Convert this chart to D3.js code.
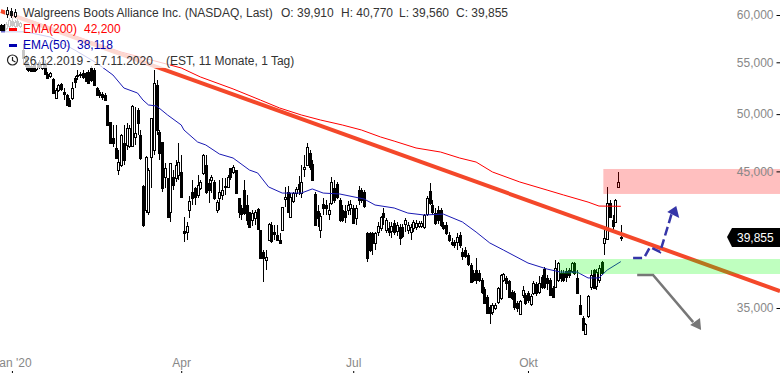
<!DOCTYPE html>
<html>
<head>
<meta charset="utf-8">
<script src="https://cdn.jsdelivr.net/npm/d3@7"></script>
<style>
  html, body { margin: 0; padding: 0; background: #fff; overflow: hidden; }
  text { font-family: "Liberation Sans", Arial, sans-serif; font-size: 12px; }
</style>
</head>
<body>
<div id="chart"></div>
<script>
// Daily candles, 26.12.2019 - 17.11.2020
var highs = [
  59.01,59.01,59.23,59.67,59.67,59.45,59.56,59.23,56.88,55.74,
  55.03,54.83,54.93,55.03,55.23,55.03,55.23,54.03,54.03,53.44,
  52.46,52.85,52.95,52.46,51.89,51.51,53.04,53.63,54.23,54.03,
  54.23,54.03,54.23,54.63,54.43,52.56,52.27,52.08,51.98,50.85,
  49.28,49.01,49.01,46.80,48.21,49.01,49.19,49.01,50.85,50.66,
  50.57,48.56,43.89,46.29,45.28,49.65,54.23,53.24,48.56,47.50,
  45.70,44.46,45.70,45.11,45.95,47.41,46.38,41.37,41.00,43.01,
  44.29,43.73,44.70,44.29,46.46,46.38,44.37,44.70,44.29,42.69,
  44.29,44.46,44.46,44.70,45.28,45.53,45.11,42.85,42.30,44.29,
  43.09,41.76,41.91,41.91,42.07,40.40,38.94,38.94,40.92,41.00,
  40.77,40.77,40.18,42.14,43.73,43.81,43.24,43.32,43.73,44.62,
  45.53,46.38,47.41,46.80,45.95,43.32,42.30,41.68,42.85,42.69,
  42.45,44.54,44.29,44.13,42.85,42.30,42.30,42.61,42.69,42.30,
  42.30,43.81,43.65,43.48,40.25,40.25,40.25,40.25,41.00,41.45,
  42.07,41.30,41.00,41.00,41.15,41.00,40.85,40.85,41.30,41.00,
  40.85,41.15,41.15,41.07,41.07,41.60,43.01,44.05,42.69,42.07,
  42.22,42.07,41.00,41.00,40.25,39.81,39.66,40.18,40.25,39.09,
  39.16,38.73,38.02,37.53,38.37,37.53,36.99,36.38,35.85,35.20,
  35.33,35.33,36.38,37.26,37.33,37.12,36.85,36.18,36.11,35.46,
  35.52,36.45,35.98,36.11,35.91,36.78,36.71,37.12,37.19,37.74,
  37.19,36.99,36.45,38.23,38.09,37.53,37.53,37.67,37.67,38.09,
  38.09,37.53,35.85,34.49,34.04,35.85,37.53,37.60,37.60,37.88,
  38.16,40.40,43.73,42.69,41.53,42.77,44.95,40.77
];
var lows = [
  58.27,58.27,58.37,58.59,58.69,58.59,58.69,58.59,54.83,54.23,
  54.03,54.03,54.03,54.13,54.33,54.23,53.73,53.34,53.44,51.89,
  51.41,52.08,52.17,51.31,50.75,50.66,51.31,52.46,53.24,53.44,
  53.34,53.04,52.85,53.04,52.65,51.70,51.51,51.31,51.22,48.92,
  47.33,47.06,46.03,44.70,45.36,45.53,46.80,46.98,47.06,47.24,
  48.12,45.95,40.62,41.68,41.53,43.65,46.38,48.12,45.95,43.32,
  43.65,41.30,41.00,43.48,44.13,44.29,42.85,39.52,39.66,41.30,
  42.30,42.30,42.85,43.48,44.70,43.17,42.45,43.24,42.69,41.68,
  41.91,42.69,43.09,43.65,44.29,44.78,43.17,41.30,41.15,41.53,
  40.77,40.55,40.70,40.77,40.40,38.30,36.71,37.53,39.59,39.45,
  39.66,39.59,39.37,40.33,42.14,41.68,41.30,42.45,42.93,43.09,
  42.85,44.54,45.45,45.11,44.21,40.70,40.62,39.81,41.53,41.53,
  41.15,42.30,42.45,42.77,41.00,41.00,40.92,41.53,41.53,40.85,
  40.77,42.30,42.45,42.07,38.09,38.80,38.59,38.94,39.96,40.33,
  40.77,40.18,39.96,39.81,40.03,39.96,39.30,39.81,40.25,40.10,
  39.66,40.25,40.40,40.55,40.55,40.47,41.45,42.30,41.53,40.77,
  40.85,40.62,40.40,40.03,39.52,39.23,39.09,38.94,39.09,38.23,
  38.37,37.81,36.65,36.71,36.58,36.71,35.91,35.26,34.62,33.98,
  34.55,34.87,35.26,35.52,36.71,36.18,35.65,35.52,34.87,34.75,
  34.55,35.65,35.20,35.33,35.13,35.85,35.78,35.91,36.25,36.25,
  36.18,35.78,35.65,36.31,36.71,36.71,36.71,36.71,36.99,37.33,
  37.19,35.91,34.55,33.55,33.30,34.36,36.18,36.25,36.18,36.65,
  37.19,38.59,39.66,41.30,40.25,40.92,43.65,39.56
];
var opens = [
  58.91,58.91,58.59,58.80,59.34,58.80,59.34,58.80,56.26,55.43,
  54.73,54.63,54.73,54.33,55.03,54.43,54.93,53.83,53.63,53.34,
  51.51,52.27,52.85,52.08,51.79,51.31,51.51,53.44,53.73,53.73,
  53.93,53.93,54.03,54.43,54.23,52.46,52.08,51.89,51.79,50.85,
  49.28,47.85,46.98,45.11,45.53,47.41,47.24,47.15,47.15,47.94,
  50.38,48.12,43.81,41.91,41.76,46.21,46.80,52.75,48.39,47.50,
  44.54,44.46,41.76,44.54,44.46,44.70,44.95,40.33,40.25,41.91,
  43.32,43.65,43.09,43.65,44.87,45.53,44.05,44.29,44.13,41.91,
  42.85,43.09,43.73,43.73,45.28,44.95,45.11,42.85,42.07,43.48,
  42.30,41.76,41.15,41.30,41.99,40.40,38.80,38.23,39.66,40.77,
  40.25,40.03,39.66,40.40,42.77,43.32,41.37,42.61,43.24,43.97,
  43.24,45.20,45.53,46.55,45.61,43.17,41.83,40.40,42.38,42.30,
  41.60,42.45,43.65,43.97,42.69,41.91,41.83,41.91,42.07,42.07,
  41.30,43.48,43.48,43.32,40.18,40.18,40.18,39.45,40.25,40.55,
  41.68,40.40,40.55,40.33,40.92,40.33,40.62,40.62,40.85,40.40,
  40.25,40.55,40.62,40.70,40.70,40.62,41.60,43.40,42.30,41.68,
  41.91,41.91,40.77,40.77,40.03,39.52,39.52,39.52,40.03,38.80,
  38.94,38.59,37.88,37.33,37.53,37.33,36.85,36.25,35.72,35.07,
  34.75,35.00,35.39,35.65,36.85,36.99,36.78,36.05,35.98,35.33,
  34.62,35.85,35.85,35.98,35.26,35.98,36.58,36.05,37.05,37.60,
  36.99,36.85,36.31,36.38,36.85,37.33,37.33,37.46,37.53,37.46,
  38.02,36.99,35.20,34.36,33.36,34.49,36.38,37.53,36.45,36.85,
  38.09,39.45,39.74,42.45,41.15,41.00,43.73,39.91
];
var closes = [
  58.37,58.37,59.01,59.45,58.91,59.23,58.91,59.12,55.43,54.63,
  54.23,54.13,54.13,54.83,54.53,54.83,53.83,53.44,53.93,51.98,
  52.27,52.75,52.37,51.89,50.85,50.75,52.46,53.04,53.63,53.83,
  53.54,53.14,52.95,53.24,52.75,51.79,51.79,51.60,51.31,49.01,
  47.41,47.41,46.12,45.78,48.12,45.95,48.74,48.74,50.75,48.30,
  49.19,46.12,40.77,46.21,45.11,49.65,52.95,48.56,46.55,43.65,
  45.28,41.37,45.70,43.89,45.53,45.78,42.93,40.18,40.70,42.61,
  42.85,42.93,43.89,44.13,46.38,43.32,43.48,44.54,42.85,42.53,
  43.32,43.48,43.81,44.54,44.54,45.36,43.24,41.76,41.60,41.68,
  41.15,40.62,41.68,41.76,40.47,38.37,38.37,38.44,40.85,39.59,
  40.10,39.66,39.45,42.14,42.93,41.76,42.93,43.24,43.57,43.57,
  44.13,45.36,47.06,45.36,44.29,40.77,41.30,41.45,42.07,42.07,
  41.91,44.13,42.69,42.93,41.15,41.15,41.37,42.30,42.38,40.92,
  42.07,42.69,42.69,42.22,38.37,38.94,39.45,40.18,40.70,41.37,
  41.37,41.15,40.25,40.70,40.25,40.77,39.81,39.96,41.15,40.77,
  40.62,41.00,40.92,40.92,40.92,41.53,42.85,42.45,41.76,40.92,
  41.15,40.77,40.55,40.18,39.66,39.37,39.30,39.88,39.30,38.52,
  38.52,37.95,36.71,36.85,36.85,36.85,36.05,35.33,34.68,34.68,
  35.20,35.20,36.31,37.19,37.26,36.65,35.72,35.65,35.07,35.00,
  35.46,36.18,35.33,35.52,35.78,36.65,35.98,36.65,36.38,36.38,
  36.65,35.85,35.72,37.67,38.02,36.99,36.85,37.05,37.19,38.02,
  37.33,35.98,34.62,33.61,33.98,35.78,37.19,36.31,37.39,37.67,
  37.33,39.81,42.45,41.37,40.70,42.69,44.13,39.855
];

// EMA readings: bar index and price
var ema200Idx = [0,22,44,66,73,85,95,102,110,117,125,132,139,144,152,161,168,174,180,190,200,206,215,219,227];
var ema200Val = [60.55,58.27,56.05,54.43,53.54,52.37,51.31,50.57,49.92,49.46,49.01,48.56,47.94,47.58,46.98,46.63,46.12,45.78,44.95,44.13,43.48,43.09,42.53,42.22,42.20];
var ema50Idx = [0,9,18,27,35,41,45,50,52,54,57,61,66,67,72,75,80,85,91,94,98,103,110,114,118,124,133,137,144,149,155,162,169,174,179,184,193,200,205,211,215,219,222,227];
var ema50Val = [58.17,58.17,57.62,56.26,54.93,53.73,52.46,51.98,51.31,50.85,50.75,49.92,49.01,48.56,47.50,47.24,46.46,46.12,45.11,44.87,43.73,43.24,43.24,43.57,43.24,43.17,42.77,42.30,42.07,41.68,41.53,41.60,41.00,40.25,39.45,38.94,38.02,37.60,37.39,37.39,36.99,36.99,37.53,38.118];

// Drawn annotations
var lastIdx = 285.3;
var trendIdx = [0, lastIdx];
var trendVal = [60.44, 36.11];
var pinkZone = [220.6, 45.20, 43.17];
var greenZone = [204.5, 38.30, 37.26];
var blueIdx = [231.5,235.5,237.7,241.4,245.8];
var blueVal = [38.37,38.37,39.16,38.80,41.76];
var blueHeadIdx = [247.3,244.0,248.4];
var blueHeadVal = [42.22,41.76,41.30];
var grayIdx = [233,238.8,253.5];
var grayVal = [37.19,37.19,34.10];
var grayHeadIdx = [252.4,256,256.4];
var grayHeadVal = [33.92,34.36,33.61];

// Axis labels and legend text
var yTicks = [60,55,50,45,40,35];
var monthIdx = [4,66,129,193];
var monthLabels = ["Jan '20","Apr","Jul","Okt"];
var title = 'Walgreens Boots Alliance Inc. (NASDAQ, Last)';
var ohlcLabels = ['O: 39,910','H: 40,770','L: 39,560','C: 39,855'];
var ohlcX = [281,341,399,456];

var chart_width = 780;
var chart_height = 373;

var svg = d3.select('#chart')
    .append('svg')
    .attr('width', chart_width)
    .attr('height', chart_height)
    .style('display', 'block');

// Creating scales
var scale_x = d3.scaleLinear()
    .domain([0, lastIdx])
    .range([1, chart_width]);

var scale_y = d3.scaleLog()
    .domain([60, 30])
    .range([15, 391.8]);

// Candles
var bars = svg.append('g').attr('shape-rendering', 'crispEdges')
    .selectAll('g')
    .data(d3.range(closes.length))
    .enter()
    .append('g');

bars.append('line')
    .attr('x1', function(i){ return Math.round(scale_x(i)) + 0.5; })
    .attr('x2', function(i){ return Math.round(scale_x(i)) + 0.5; })
    .attr('y1', function(i){ return scale_y(highs[i]); })
    .attr('y2', function(i){ return scale_y(lows[i]); })
    .attr('stroke', '#000');

bars.append('rect')
    .attr('x', function(i){ return Math.round(scale_x(i)) - 0.5; })
    .attr('width', 2)
    .attr('y', function(i){ return Math.round(scale_y(Math.max(opens[i], closes[i]))) + 0.5; })
    .attr('height', function(i){ return Math.max(1, Math.round(Math.abs(scale_y(opens[i]) - scale_y(closes[i])))); })
    .attr('fill', function(i){ return closes[i] < opens[i] ? '#000' : '#fff'; })
    .attr('stroke', '#000');

// EMA lines
var line_xy = function(idx, val) {
    return d3.line()
        .x(function(i){ return scale_x(idx[i]); })
        .y(function(i){ return scale_y(val[i]); })(d3.range(idx.length));
};

svg.append('path')
    .attr('d', line_xy(ema200Idx, ema200Val))
    .attr('fill', 'none')
    .attr('stroke', '#ff0000')
    .attr('stroke-width', 1);

svg.append('path')
    .attr('d', line_xy(ema50Idx, ema50Val))
    .attr('fill', 'none')
    .attr('stroke', '#1a1ab4')
    .attr('stroke-width', 1);

// Trend line
svg.append('path')
    .attr('d', line_xy(trendIdx, trendVal))
    .attr('fill', 'none')
    .attr('stroke', '#f4482a')
    .attr('stroke-width', 4);

// Zones sit over the candles and the trend line
svg.append('rect')
    .attr('x', scale_x(pinkZone[0]))
    .attr('y', scale_y(pinkZone[1]))
    .attr('width', chart_width - scale_x(pinkZone[0]))
    .attr('height', scale_y(pinkZone[2]) - scale_y(pinkZone[1]))
    .attr('fill', '#ff0000')
    .attr('fill-opacity', 0.25);

svg.append('rect')
    .attr('x', scale_x(greenZone[0]))
    .attr('y', scale_y(greenZone[1]))
    .attr('width', chart_width - scale_x(greenZone[0]))
    .attr('height', scale_y(greenZone[2]) - scale_y(greenZone[1]))
    .attr('fill', '#00ff00')
    .attr('fill-opacity', 0.25);

// Arrows
svg.append('path')
    .attr('d', line_xy(blueIdx, blueVal))
    .attr('fill', 'none')
    .attr('stroke', '#3535a8')
    .attr('stroke-width', 2.5)
    .attr('stroke-dasharray', '9,4');

svg.append('path')
    .attr('d', line_xy(blueHeadIdx, blueHeadVal) + 'Z')
    .attr('fill', '#3535a8');

svg.append('path')
    .attr('d', line_xy(grayIdx, grayVal))
    .attr('fill', 'none')
    .attr('stroke', '#777')
    .attr('stroke-width', 2.5);

svg.append('path')
    .attr('d', line_xy(grayHeadIdx, grayHeadVal) + 'Z')
    .attr('fill', '#777');

// Axes
var axis_y = d3.axisLeft(scale_y)
    .tickValues(yTicks)
    .tickFormat(function(d){ return d3.format('.3f')(d).replace('.', ','); })
    .tickSize(3.5)
    .tickPadding(3);

var y_group = svg.append('g')
    .attr('transform', 'translate(' + chart_width + ',0)')
    .call(axis_y);
y_group.select('.domain').remove();
y_group.selectAll('text').attr('fill', '#888').style('font-size', '12px');
y_group.selectAll('line').attr('stroke', '#000');

var axis_x = d3.axisBottom(scale_x)
    .tickValues(monthIdx)
    .tickFormat(function(d, i){ return monthLabels[i]; })
    .tickSize(2);

var x_group = svg.append('g')
    .attr('transform', 'translate(0,371)')
    .call(axis_x);
x_group.select('.domain').remove();
x_group.selectAll('text').attr('y', -13).attr('fill', '#888').style('font-size', '12px');
x_group.selectAll('line').attr('stroke', '#000');

// Last price tag
var tag_y = Math.round(scale_y(closes[closes.length - 1]));
svg.append('path')
    .attr('d', 'M727,' + tag_y + 'L732,' + (tag_y - 9) + 'H780V' + (tag_y + 10) + 'H732Z')
    .attr('fill', '#000');
svg.append('text')
    .attr('x', 737)
    .attr('y', tag_y + 5)
    .attr('fill', '#fff')
    .text('39,855');

// Legend box washes out what lies under it
svg.append('rect')
    .attr('x', 5).attr('y', 0)
    .attr('width', 165).attr('height', 68)
    .attr('fill', '#fff')
    .attr('fill-opacity', 0.78);

var legend = svg.append('g');

legend.append('text').attr('x', 23).attr('y', 17).attr('fill', '#333').text(title);
legend.selectAll('.ohlc')
    .data(ohlcLabels)
    .enter()
    .append('text')
    .attr('class', 'ohlc')
    .attr('x', function(d, i){ return ohlcX[i]; })
    .attr('y', 17)
    .attr('fill', '#333')
    .text(function(d){ return d; });

legend.append('text').attr('x', 23).attr('y', 33).attr('fill', '#ff0000').text('EMA(200)');
legend.append('text').attr('x', 84).attr('y', 33).attr('fill', '#ff0000').text('42,200');
legend.append('text').attr('x', 23).attr('y', 49).attr('fill', '#0000b0').text('EMA(50)');
legend.append('text').attr('x', 77).attr('y', 49).attr('fill', '#0000b0').text('38,118');
legend.append('text').attr('x', 23).attr('y', 65).attr('fill', '#333').text('26.12.2019 - 17.11.2020');
legend.append('text').attr('x', 166).attr('y', 65).attr('fill', '#333').text('(EST, 11 Monate, 1 Tag)');

// Legend icons
legend.append('rect').attr('x', 9).attr('y', 28).attr('width', 8).attr('height', 3).attr('fill', '#ff0000');
legend.append('rect').attr('x', 9).attr('y', 44).attr('width', 8).attr('height', 3).attr('fill', '#0000b0');

legend.append('circle')
    .attr('cx', 12.5).attr('cy', 60).attr('r', 5)
    .attr('fill', 'none').attr('stroke', '#222').attr('stroke-width', 1.2);
legend.append('path')
    .attr('d', 'M12.5,57V60.5L15.5,62')
    .attr('fill', 'none').attr('stroke', '#222').attr('stroke-width', 1.2);

var icon = legend.append('g').attr('stroke', '#111').attr('shape-rendering', 'crispEdges');
[7, 11, 15].forEach(function(cx, i){
    icon.append('line').attr('x1', cx + 0.5).attr('x2', cx + 0.5).attr('y1', 7 + i).attr('y2', 18);
    icon.append('rect').attr('x', cx - 0.5).attr('y', 10 + i).attr('width', 2).attr('height', 4)
        .attr('fill', i == 1 ? '#111' : '#fff');
});
</script>
</body>
</html>
